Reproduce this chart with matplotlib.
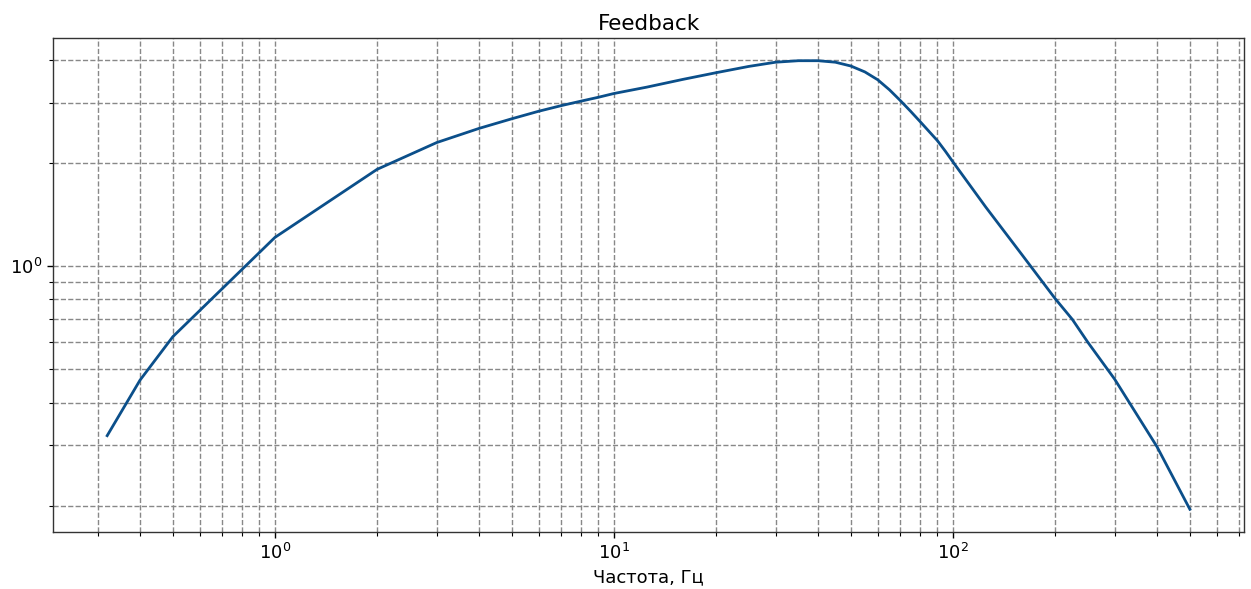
import matplotlib
matplotlib.use('Agg')
import matplotlib.pyplot as plt

# частоты, Гц
freq = [0.32, 0.4, 0.5, 1, 2, 3, 4, 5, 6, 7, 8, 9, 10, 12.5, 16, 20, 25, 30,
        35, 40, 45, 50, 55, 60, 65, 70, 75, 80, 85, 90, 95, 100, 125, 160,
        200, 225, 250, 300, 400, 500]
# коэффициент обратной связи
gain = [0.32, 0.465, 0.623, 1.215, 1.92, 2.30, 2.53, 2.70, 2.84, 2.95, 3.04,
        3.12, 3.20, 3.34, 3.52, 3.68, 3.84, 3.95, 3.99, 3.99, 3.95, 3.85,
        3.70, 3.51, 3.28, 3.05, 2.84, 2.65, 2.48, 2.33, 2.17, 2.02, 1.49,
        1.08, 0.806, 0.70, 0.60, 0.468, 0.297, 0.195]

titulo = 'Feedback'
rotulo_x = 'Частота, Гц'

fig, ax = plt.subplots(figsize=(12.51, 5.89), dpi=100)
fig.subplots_adjust(left=0.0424, right=0.9944, top=0.935, bottom=0.0973)

ax.loglog(freq, gain, color='#0b4f8a', linewidth=2.0)

ax.grid(True, which='both', linestyle='--', color='#888888', linewidth=1.0)
ax.set_title(titulo, fontsize=15.5)
ax.set_xlabel(rotulo_x, fontsize=13)
ax.tick_params(labelsize=13, width=1.0, length=4.5)
ax.tick_params(which='minor', width=0.8, length=2.6)
for s in ax.spines.values():
    s.set_color('#333333')
    s.set_linewidth(1.0)

plt.savefig('out.png', dpi=100)
plt.close()
